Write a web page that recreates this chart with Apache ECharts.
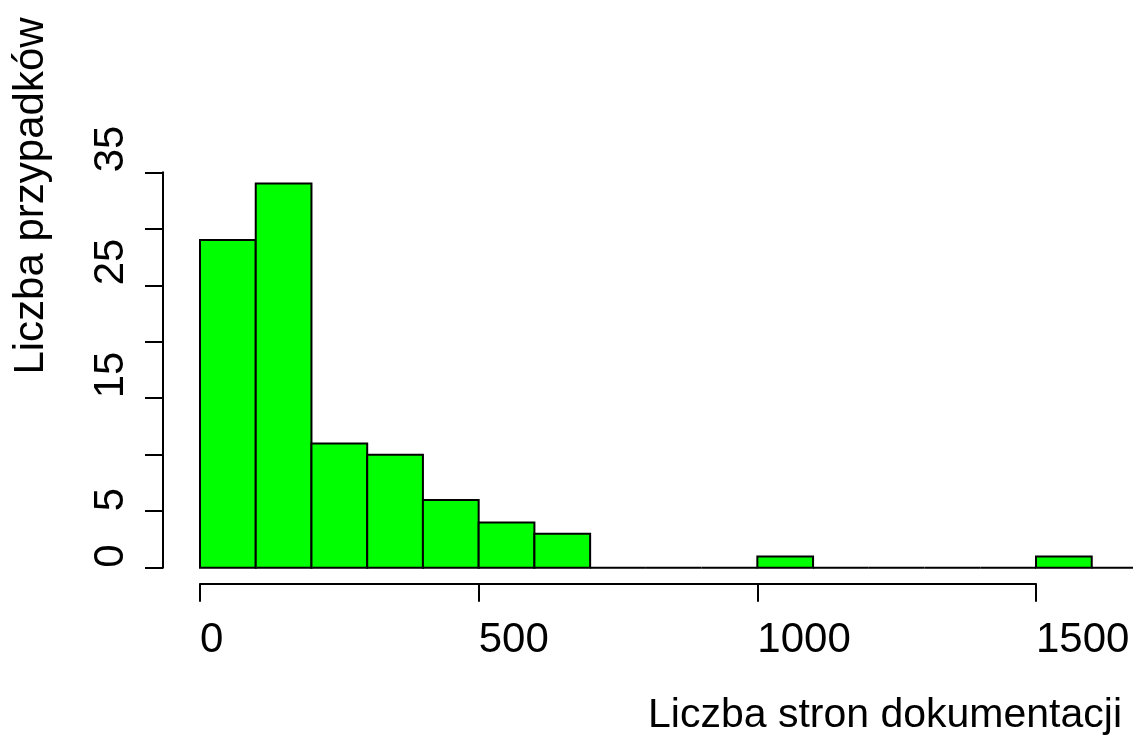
<!DOCTYPE html>
<html>
<head>
<meta charset="utf-8">
<script src="https://cdn.jsdelivr.net/npm/echarts@6/dist/echarts.min.js"></script>
<style>
html,body{margin:0;padding:0;background:#fff;}
#chart{width:1133px;height:738px;}
</style>
</head>
<body>
<div id="chart"></div>
<script>
// Histogram data (bin starts, bin width, counts)
const binStarts = [0, 100, 200, 300, 400, 500, 600, 700, 800, 900, 1000, 1100, 1200, 1300, 1400, 1500, 1600, 1700];
const binWidth = 100;
const counts = [29, 34, 11, 10, 6, 4, 3, 0, 0, 0, 1, 0, 0, 0, 0, 1, 0, 0];
const xTicks = [0, 500, 1000, 1500];
const yTickLabels = ['0', '5', '15', '25', '35'];
const xLabel = 'Liczba stron dokumentacji';
const yLabel = 'Liczba przypadków';

const FONT = '"Liberation Sans", Arial, Helvetica, sans-serif';
const chart = echarts.init(document.getElementById('chart'));

const data = binStarts.map((s, i) => [s, s + binWidth, counts[i]]);

chart.setOption({
  animation: false,
  backgroundColor: '#ffffff',
  grid: { left: 200, right: 97, top: 172.3, bottom: 170.3 },
  xAxis: {
    type: 'value', min: 0, max: 1500, interval: 500,
    offset: 16,
    axisLine: { show: true, onZero: false, lineStyle: { color: '#000', width: 2 } },
    axisTick: { show: true, length: 18, lineStyle: { color: '#000', width: 2 } },
    splitLine: { show: false },
    axisLabel: {
      color: '#000', fontSize: 42, fontFamily: FONT, margin: 36,
      align: 'left', verticalAlign: 'top',
      showMinLabel: true, showMaxLabel: true,
      formatter: v => xTicks.includes(v) ? String(v) : ''
    }
  },
  yAxis: {
    type: 'value', min: 0, max: 35, interval: 5,
    offset: 37,
    axisLine: { show: true, onZero: false, lineStyle: { color: '#000', width: 2 } },
    axisTick: { show: true, length: 18, lineStyle: { color: '#000', width: 2 } },
    splitLine: { show: false },
    axisLabel: {
      color: '#000', fontSize: 42, fontFamily: FONT, margin: 31, rotate: 90,
      align: 'left', verticalAlign: 'bottom',
      showMinLabel: true, showMaxLabel: true,
      formatter: v => yTickLabels.includes(String(v)) ? String(v) : ''
    }
  },
  series: [{
    type: 'custom',
    clip: false,
    data: data,
    encode: { x: [0, 1], y: 2 },
    renderItem: function (params, api) {
      const p0 = api.coord([api.value(0), 0]);
      const p1 = api.coord([api.value(1), api.value(2)]);
      return {
        type: 'rect',
        shape: { x: p0[0], y: p1[1], width: p1[0] - p0[0], height: p0[1] - p1[1] },
        style: { fill: '#00ff00', stroke: '#000', lineWidth: 2 }
      };
    }
  }],
  graphic: [
    {
      type: 'text', x: 885, y: 716,
      style: { text: xLabel, font: '41px ' + FONT, fill: '#000', textAlign: 'center', textVerticalAlign: 'middle' }
    },
    {
      type: 'text', x: 31, y: 196, rotation: Math.PI / 2,
      style: { text: yLabel, font: '42px ' + FONT, fill: '#000', textAlign: 'center', textVerticalAlign: 'middle' }
    }
  ]
});
</script>
</body>
</html>
